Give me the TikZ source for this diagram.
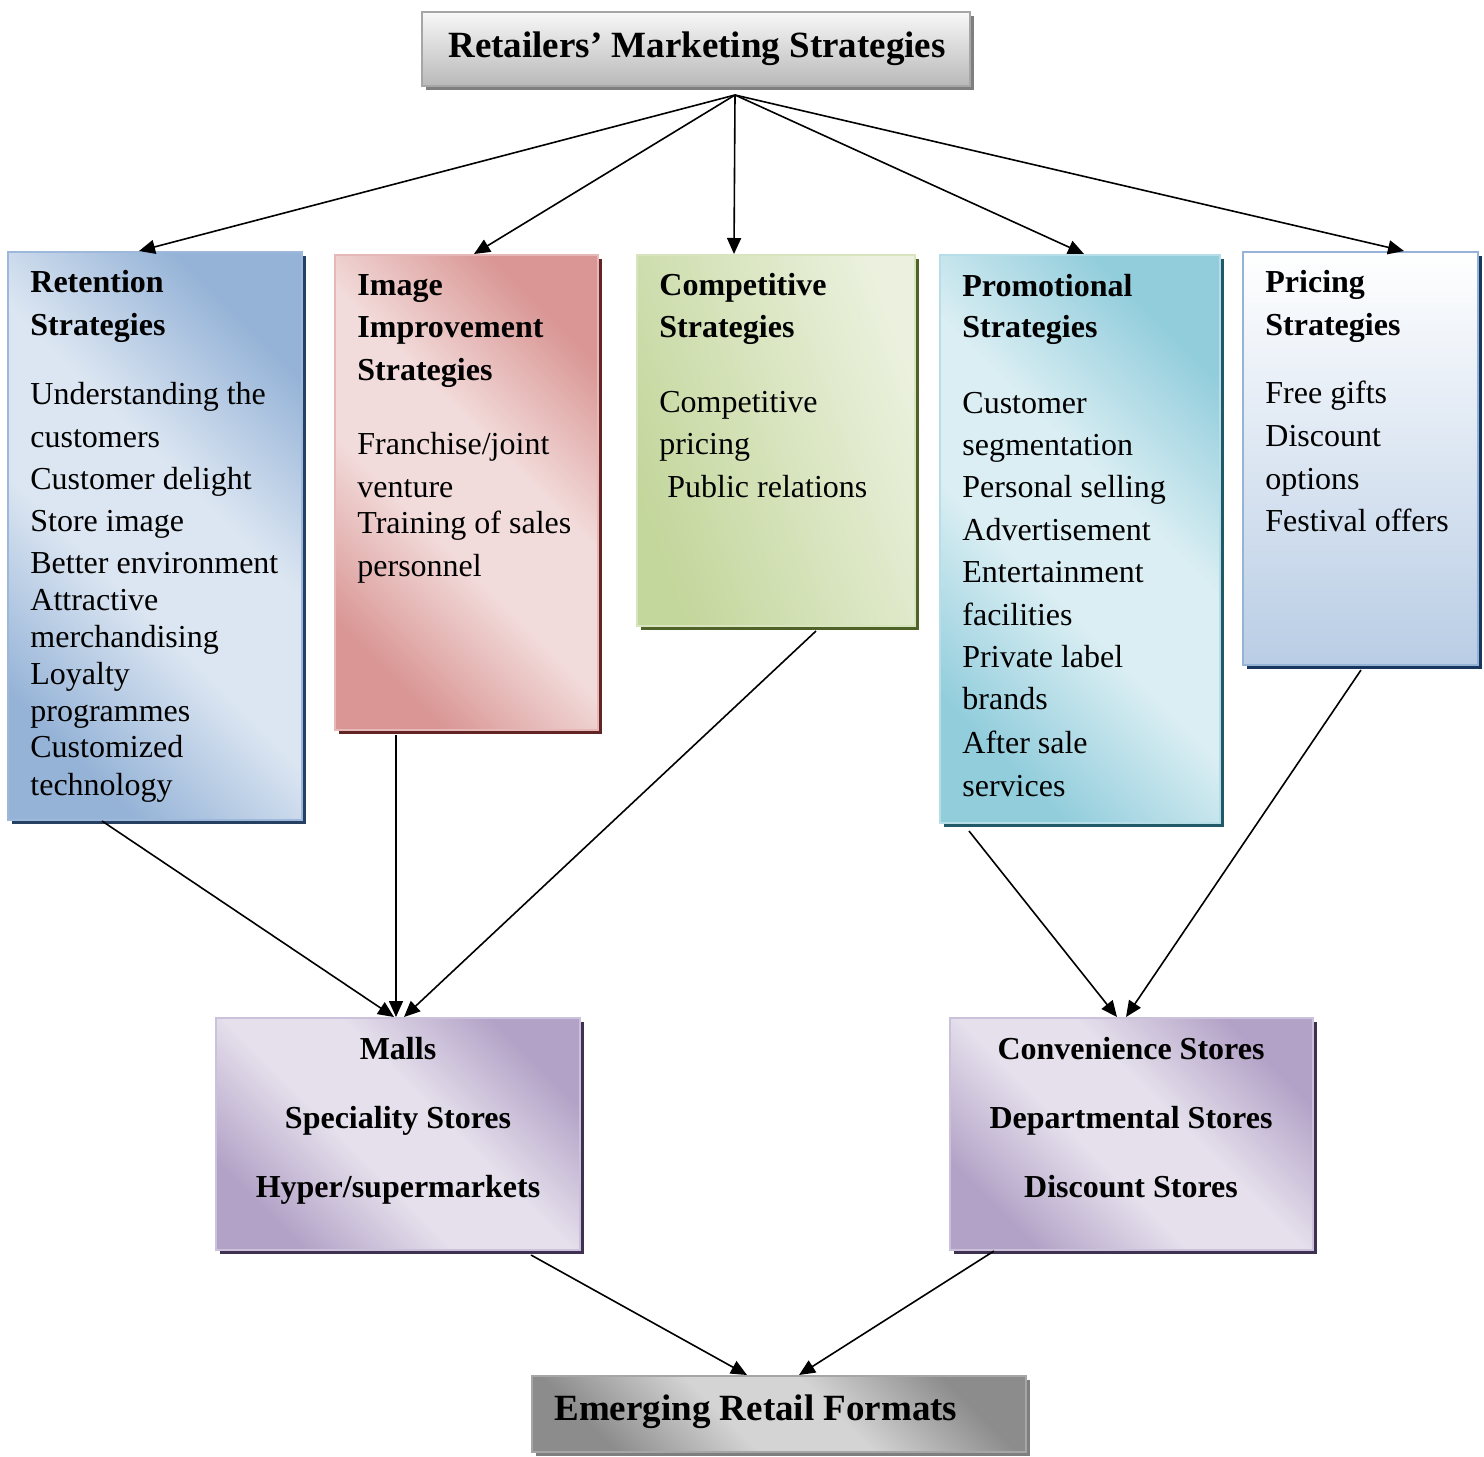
\documentclass[tikz,border=0pt]{standalone}
\usepackage{fontspec}
\setmainfont{Liberation Serif}
\usetikzlibrary{shadows,calc,arrows.meta}
\definecolor{retL}{HTML}{DCE6F2}\definecolor{retD}{HTML}{95B3D7}\definecolor{retS}{HTML}{254061}\definecolor{retB}{HTML}{9DB8DB}
\definecolor{imgL}{HTML}{F2DCDB}\definecolor{imgD}{HTML}{D99694}\definecolor{imgS}{HTML}{632523}\definecolor{imgB}{HTML}{E6B9B8}
\definecolor{cmpL}{HTML}{EBF1DE}\definecolor{cmpD}{HTML}{C3D69B}\definecolor{cmpS}{HTML}{4F6228}\definecolor{cmpB}{HTML}{D7E4BD}
\definecolor{proL}{HTML}{DAEEF3}\definecolor{proD}{HTML}{92CDDC}\definecolor{proS}{HTML}{215968}\definecolor{proB}{HTML}{B7DEE8}
\definecolor{priD}{HTML}{B9CDE5}\definecolor{priS}{HTML}{17375E}
\definecolor{purL}{HTML}{E5E0EC}\definecolor{purD}{HTML}{B3A2C7}\definecolor{purS}{HTML}{3F3151}\definecolor{purB}{HTML}{CCC1DA}
\definecolor{gryL}{HTML}{D4D4D4}\definecolor{gryD}{HTML}{8C8C8C}\definecolor{gryS}{HTML}{7F7F7F}\definecolor{gryB}{HTML}{A6A6A6}
\colorlet{bandD}{gray}\colorlet{bandL}{white}
\pgfdeclarehorizontalshading[bandD,bandL]{wideband}{100bp}{color(0bp)=(bandD); color(25bp)=(bandD); color(43bp)=(bandL); color(57bp)=(bandL); color(75bp)=(bandD); color(100bp)=(bandD)}
\begin{document}
\begin{tikzpicture}[x=0.5pt,y=-0.5pt,
  box/.style={rectangle, inner sep=0pt, line width=1pt},
  sh/.style={general shadow={fill=#1, shadow xshift=2pt, shadow yshift=-2pt}},
  band/.style n args={2}{/utils/exec={\colorlet{bandD}{#1}\colorlet{bandL}{#2}}, shading=wideband, shading angle=45},
  txt/.style={anchor=base west, inner sep=0pt, font=\fontsize{16}{19}\selectfont},
  hd/.style={anchor=base west, inner sep=0pt, font=\fontsize{16}{19}\selectfont\bfseries},
  ctr/.style={anchor=base, inner sep=0pt, font=\fontsize{16}{19}\selectfont\bfseries},
  big/.style={inner sep=0pt, font=\fontsize{18.5}{22}\selectfont\bfseries},
  arr/.style={-{Triangle[length=8pt,width=7pt]}, line width=0.8pt}]
\useasboundingbox (0,0) rectangle (1484,1457);

% boxes
\node[box, sh=gryS, draw=gryB, top color=gray!6, bottom color=gray!55, minimum width=274pt, minimum height=37pt] (top) at (696,49) {};
\node[box, sh=retS, draw=retB, band={retD}{retL}, minimum width=147pt, minimum height=284pt] (ret) at (155,536) {};
\node[box, sh=imgS, draw=imgB, band={imgD}{imgL}, minimum width=131.5pt, minimum height=237.5pt] (img) at (466.5,492.5) {};
\node[box, sh=cmpS, draw=cmpB, left color=cmpD, right color=cmpL, shading angle=110, minimum width=139pt, minimum height=185.5pt] (cmp) at (776,440.5) {};
\node[box, sh=proS, draw=proB, band={proD}{proL}, minimum width=140pt, minimum height=284pt] (pro) at (1080,539) {};
\node[box, sh=priS, draw=retD, top color=white, bottom color=priD, minimum width=117.5pt, minimum height=206.5pt] (pri) at (1360.5,458.5) {};
\node[box, sh=purS, draw=purB, band={purD}{purL}, minimum width=182pt, minimum height=116pt] (mal) at (398,1134) {};
\node[box, sh=purS, draw=purB, band={purD}{purL}, minimum width=181.5pt, minimum height=116pt] (con) at (1131.5,1134) {};
\node[box, sh=gryS, draw=gryB, band={gryD}{gryL}, minimum width=247pt, minimum height=38pt] (emr) at (779,1414) {};

% titles
\node[big, anchor=base] (toptxt) at (697,57) {Retailers’ Marketing Strategies};
\node[big, anchor=base west] (emrtxt) at (554,1420) {Emerging Retail Formats};

% Retention
\foreach \yy/\t [count=\i] in {292/Retention, 335/Strategies}
  \node[hd, name=reth\i] at (30,\yy) {\t};
\foreach \yy/\t [count=\i] in {404/{Understanding the}, 447/customers, 489/{Customer delight}, 531/{Store image}, 573/{Better environment}, 610/Attractive, 647/merchandising, 684/Loyalty, 721/programmes, 757/Customized, 795/technology}
  \node[txt, name=rett\i] at (30,\yy) {\t};

% Image
\foreach \yy/\t [count=\i] in {295/Image, 337/Improvement, 380/Strategies}
  \node[hd, name=imgh\i] at (357,\yy) {\t};
\foreach \yy/\t [count=\i] in {454/{Franchise/joint}, 497/venture, 533/{Training of sales}, 576/personnel}
  \node[txt, name=imgt\i] at (357,\yy) {\t};

% Competitive
\foreach \yy/\t [count=\i] in {295/Competitive, 337/Strategies}
  \node[hd, name=cmph\i] at (659,\yy) {\t};
\foreach \yy/\t [count=\i] in {412/Competitive, 454/pricing}
  \node[txt, name=cmpt\i] at (659,\yy) {\t};
\node[txt] (cmpt3) at (667,497) {Public relations};

% Promotional
\foreach \yy/\t [count=\i] in {296/Promotional, 337/Strategies}
  \node[hd, name=proh\i] at (962,\yy) {\t};
\foreach \yy/\t [count=\i] in {413/Customer, 455/segmentation, 497/{Personal selling}, 540/Advertisement, 582/Entertainment, 625/facilities, 667/{Private label}, 709/brands, 753/{After sale}, 796/services}
  \node[txt, name=prot\i] at (962,\yy) {\t};

% Pricing
\foreach \yy/\t [count=\i] in {292/Pricing, 335/Strategies}
  \node[hd, name=prih\i] at (1265,\yy) {\t};
\foreach \yy/\t [count=\i] in {403/{Free gifts}, 446/Discount, 489/options, 531/{Festival offers}}
  \node[txt, name=prit\i] at (1265,\yy) {\t};

% Malls / Convenience
\foreach \yy/\t [count=\i] in {1059/Malls, 1128/{Speciality Stores}, 1197/{Hyper/supermarkets}}
  \node[ctr, name=malt\i] at (398,\yy) {\t};
\foreach \yy/\t [count=\i] in {1059/{Convenience Stores}, 1128/{Departmental Stores}, 1197/{Discount Stores}}
  \node[ctr, name=cont\i] at (1131,\yy) {\t};

% connectors
\coordinate (apex) at (735,95);
\draw[arr] (apex) -- ($(ret.north west)+(132,0)$);
\draw[arr] (apex) -- ($(img.north west)+(140,0)$);
\draw[arr] (apex) -- ($(cmp.north west)+(98,0)$);
\draw[arr] (apex) -- ($(pro.north west)+(145,0)$);
\draw[arr] (apex) -- ($(pri.north west)+(162,0)$);

\draw[arr] ($(ret.south west)+(95,0)$) -- ($(mal.north west)+(179,0)$);
\draw[arr] ($(img.south west)+(62,4)$) -- ($(mal.north west)+(181,0)$);
\draw[arr] ($(cmp.south west)+(180,4)$) -- ($(mal.north west)+(189,0)$);
\draw[arr] ($(pro.south west)+(30,7)$) -- ($(con.north west)+(168,0)$);
\draw[arr] ($(pri.south west)+(119,4)$) -- ($(con.north west)+(177,0)$);
\draw[arr] ($(mal.south west)+(316,4)$) -- ($(emr.north west)+(216,0)$);
\draw[arr] ($(con.south west)+(45,0)$) -- ($(emr.north west)+(268,0)$);
\end{tikzpicture}
\end{document}
